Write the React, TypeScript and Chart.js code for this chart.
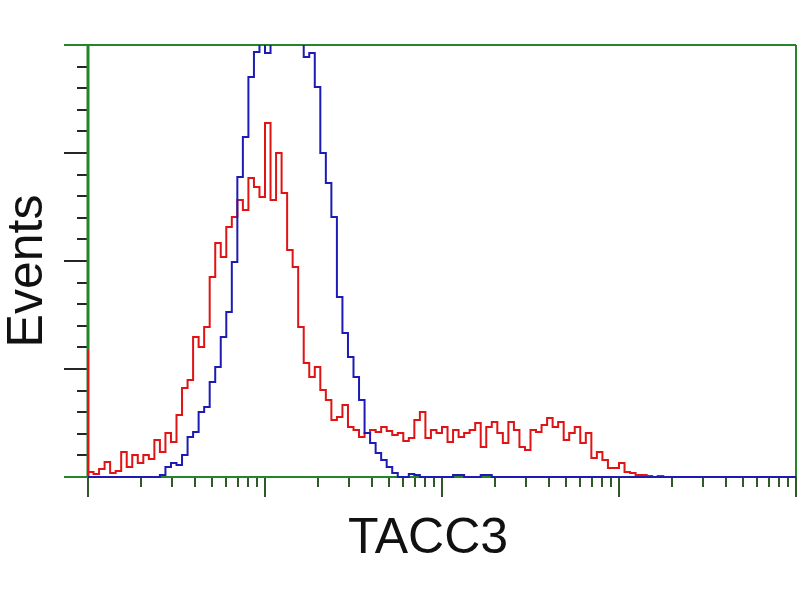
import React, { useEffect, useRef } from "react";
import { Chart, registerables } from "chart.js";

Chart.register(...registerables);

// Histogram bins: 128 bins of 2 channels each across a 256-channel (4-decade log) axis
const binWidth = 2;
const redCounts = [
  127, 5, 3, 8, 15, 4, 6, 25, 10, 22, 14, 22, 18, 37, 25, 44,
  35, 62, 89, 97, 140, 130, 150, 200, 234, 220, 250, 260, 277, 267, 299, 290,
  280, 354, 277, 324, 284, 227, 210, 150, 114, 100, 110, 87, 77, 57, 60, 72,
  50, 47, 40, 44, 47, 45, 50, 46, 42, 44, 36, 39, 57, 65, 39, 47,
  44, 50, 35, 47, 40, 44, 47, 54, 30, 50, 55, 44, 34, 55, 47, 30,
  27, 47, 45, 52, 59, 50, 55, 37, 44, 50, 34, 44, 19, 25, 17, 9,
  9, 14, 5, 4, 2, 2, 1, 0, 1, 0, 0, 0, 0, 0, 0, 0,
  0, 0, 0, 0, 0, 0, 0, 0, 0, 0, 0, 0, 0, 0, 0, 0,
];
const blueCounts = [
  0, 0, 0, 0, 0, 0, 0, 0, 0, 0, 0, 0, 0, 0, 2, 10,
  14, 12, 22, 40, 45, 65, 70, 95, 110, 140, 165, 215, 300, 340, 400, 425,
  445, 424, 445, 445, 445, 445, 445, 445, 420, 424, 390, 324, 294, 260, 180, 144,
  120, 100, 77, 44, 34, 24, 17, 10, 4, 0, 0, 3, 2, 0, 0, 0,
  0, 0, 0, 2, 2, 0, 0, 0, 2, 2, 0, 0, 0, 0, 0, 0,
  0, 0, 0, 0, 0, 0, 0, 0, 0, 0, 0, 0, 0, 0, 0, 0,
  0, 0, 0, 0, 0, 0, 0, 0, 0, 0, 0, 0, 0, 0, 0, 0,
  0, 0, 0, 0, 0, 0, 0, 0, 0, 0, 0, 0, 0, 0, 0, 0,
];

const xMax = 256;
const yMax = 432;
const decades = [0, 1, 2, 3, 4]; // log decades across the x axis
const decadeChannels = 64;
const minorMultipliers = [2, 3, 4, 5, 6, 7, 8, 9];
const yMajorTicks = [0, 108, 216, 324, 432];
const yMinorStep = 21.6;
const xTitle = "TACC3";
const yTitle = "Events";

function toPoints(counts: number[]) {
  const pts = [{ x: 0, y: 0 }];
  counts.forEach((v, i) => pts.push({ x: i * binWidth, y: v }));
  pts.push({ x: counts.length * binWidth, y: counts[counts.length - 1] });
  return pts;
}

const seg = (ctx: any, x1: number, y1: number, x2: number, y2: number) => {
  ctx.beginPath();
  ctx.moveTo(x1, y1);
  ctx.lineTo(x2, y2);
  ctx.stroke();
};

const framePlugin = {
  id: "framePlugin",
  beforeDatasetsDraw(chart: any) {
    const { ctx, chartArea, scales } = chart;
    const { left, right, top, bottom } = chartArea;
    const x = scales.x;
    const y = scales.y;
    ctx.save();
    // y ticks
    ctx.strokeStyle = "#262626";
    ctx.lineWidth = 2;
    for (let v = 0; v <= yMax + 0.01; v += yMinorStep) {
      const py = Math.round(y.getPixelForValue(v));
      seg(ctx, left - 11, py, left, py);
    }
    yMajorTicks.forEach((v) => {
      const py = Math.round(y.getPixelForValue(v));
      seg(ctx, left - 24, py, left, py);
    });
    // x ticks
    ctx.strokeStyle = "#2f5a27";
    decades.forEach((d) => {
      const px = Math.round(x.getPixelForValue(d * decadeChannels));
      seg(ctx, px, bottom, px, bottom + 20);
      if (d < decades.length - 1) {
        minorMultipliers.forEach((m) => {
          const mx = Math.round(
            x.getPixelForValue((d + Math.log10(m)) * decadeChannels)
          );
          seg(ctx, mx, bottom, mx, bottom + 10);
        });
      }
    });
    // frame
    ctx.strokeStyle = "#23862a";
    ctx.lineWidth = 2;
    seg(ctx, left - 24, top, right, top);
    seg(ctx, left - 24, bottom, right, bottom);
    seg(ctx, right, top, right, bottom);
    ctx.lineWidth = 3;
    seg(ctx, left, top - 1, left, bottom + 1);
    // titles
    ctx.fillStyle = "#111";
    ctx.font = '50px "Liberation Sans", Arial, sans-serif';
    ctx.textAlign = "center";
    ctx.textBaseline = "alphabetic";
    ctx.fillText(xTitle, 428, 553);
    ctx.translate(42, (top + bottom) / 2 + 10);
    ctx.rotate(-Math.PI / 2);
    ctx.fillText(yTitle, 0, 0);
    ctx.restore();
  },
};

export default function App() {
  const ref = useRef<HTMLCanvasElement | null>(null);
  useEffect(() => {
    document.body.style.margin = "0";
    if (!ref.current) return;
    const chart = new Chart(ref.current, {
      type: "line",
      data: {
        datasets: [
          {
            label: "Control",
            data: toPoints(blueCounts),
            borderColor: "#1c1cb4",
            borderWidth: 2,
            pointRadius: 0,
            stepped: "after",
            fill: false,
            clip: { left: 2, right: 0, top: 0, bottom: 1 },
          },
          {
            label: "TACC3",
            data: toPoints(redCounts),
            borderColor: "#e01414",
            borderWidth: 2,
            pointRadius: 0,
            stepped: "after",
            fill: false,
            clip: { left: 2, right: 0, top: 0, bottom: 1 },
          },
        ],
      },
      options: {
        animation: false,
        responsive: false,
        layout: { padding: { left: 88, right: 4, top: 45, bottom: 123 } },
        plugins: { legend: { display: false }, tooltip: { enabled: false } },
        scales: {
          x: { type: "linear", min: 0, max: xMax, display: false },
          y: { type: "linear", min: 0, max: yMax, display: false },
        },
      },
      plugins: [framePlugin],
    });
    return () => chart.destroy();
  }, []);
  return (
    <div style={{ width: 800, height: 600, background: "#fff" }}>
      <canvas ref={ref} width={800} height={600} />
    </div>
  );
}
